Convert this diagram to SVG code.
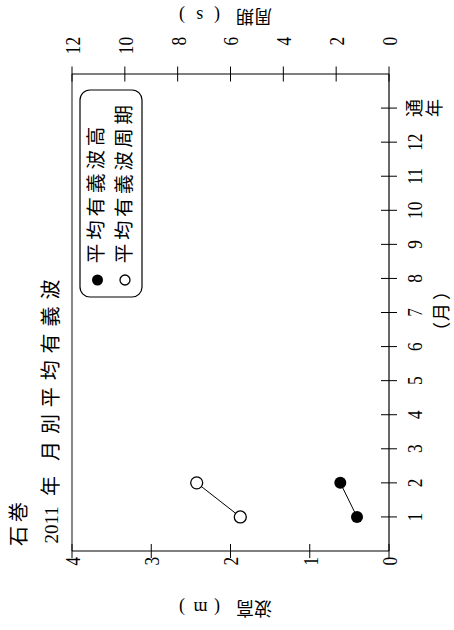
<svg xmlns="http://www.w3.org/2000/svg" width="454" height="630" viewBox="0 0 454 630">
<style>
.ax{stroke:#000;stroke-width:1.2;fill:none}
.tk{stroke:#000;stroke-width:1;fill:none}
.num{font-family:"Liberation Serif","Noto Sans CJK JP",serif;font-size:21px;fill:#000}
.cjk{font-family:"Liberation Serif","Noto Sans CJK JP",serif;fill:#000}
.dot{fill:#000}
.ring{fill:#fff;stroke:#000;stroke-width:1.3}
.ln{stroke:#000;stroke-width:1;fill:none}
</style>
<rect width="454" height="630" fill="#fff"/>
<g id="chart" transform="translate(0,630) rotate(-90)">
  <g id="axes">
    <line x1="79" y1="72" x2="556" y2="72" stroke="#555" stroke-width="1.4"/>
    <line x1="556" y1="72" x2="556" y2="389" class="ax"/>
    <line x1="79" y1="389" x2="556" y2="389" class="ax"/>
    <line x1="79" y1="72" x2="79" y2="389" class="ax"/>
    <path class="tk" d="M72 389H86M72 309.75H86M72 230.5H86M72 151.25H86M72 72H86"/>
    <path class="tk" d="M548.5 389H563.5M548.5 336.17H563.5M548.5 283.33H563.5M548.5 230.5H563.5M548.5 177.67H563.5M548.5 124.83H563.5M548.5 72H563.5"/>
    <path class="tk" d="M113.07 381V397M147.14 381V397M181.21 381V397M215.28 381V397M249.35 381V397M283.42 381V397M317.5 381V397M351.56 381V397M385.63 381V397M419.7 381V397M453.77 381V397M487.84 381V397M521.91 381V397"/>
  </g>
  <g id="height-labels" class="num" text-anchor="end" transform="scale(0.82 1)">
    <text x="89.02" y="397">0</text>
    <text x="89.02" y="317.75">1</text>
    <text x="89.02" y="238.5">2</text>
    <text x="89.02" y="159.25">3</text>
    <text x="89.02" y="80">4</text>
  </g>
  <g id="period-labels" class="num" text-anchor="end" transform="scale(0.82 1)">
    <text x="723.17" y="397">0</text>
    <text x="723.17" y="344.17">2</text>
    <text x="723.17" y="291.33">4</text>
    <text x="723.17" y="238.5">6</text>
    <text x="723.17" y="185.67">8</text>
    <text x="723.17" y="132.83">10</text>
    <text x="723.17" y="80">12</text>
  </g>
  <g id="month-labels" class="num" text-anchor="middle" transform="scale(0.82 1)">
    <text x="137.89" y="422">1</text>
    <text x="179.44" y="422">2</text>
    <text x="220.99" y="422">3</text>
    <text x="262.54" y="422">4</text>
    <text x="304.09" y="422">5</text>
    <text x="345.63" y="422">6</text>
    <text x="387.2" y="422">7</text>
    <text x="428.73" y="422">8</text>
    <text x="470.28" y="422">9</text>
    <text x="511.83" y="422">10</text>
    <text x="553.38" y="422">11</text>
    <text x="594.93" y="422">12</text>
  </g>
  <g id="annual-label" class="cjk" font-size="18" text-anchor="middle">
    <text x="521.91" y="421">通</text>
    <text x="521.91" y="441">年</text>
  </g>
  <g id="axis-titles" class="cjk" font-size="18">
    <text x="290 309 330" y="448">（月）</text>
    <text transform="translate(28,272) rotate(-90)" x="0 18 52 64.4 87" y="0">波高(m)</text>
    <text transform="translate(620,272) rotate(-90)" x="0 18 52 68.7 87" y="0">周期(s)</text>
  </g>
  <g id="title" class="cjk" font-size="20">
    <text x="84" y="26" letter-spacing="4">石巻</text>
    <text y="58"><tspan x="86.5" font-size="19">2011</tspan><tspan x="134">年</tspan><tspan x="169" letter-spacing="6.9">月別平均有義波</tspan></text>
  </g>
  <g id="connectors">
    <line class="ln" x1="113.07" y1="357" x2="147.14" y2="340.3"/>
    <line class="ln" x1="113.07" y1="240.3" x2="147.14" y2="196.7"/>
  </g>
  <g id="series-height">
    <circle class="dot" cx="113.07" cy="357" r="6"/>
    <circle class="dot" cx="147.14" cy="340.3" r="6"/>
  </g>
  <g id="series-period">
    <circle class="ring" cx="113.07" cy="240.3" r="6"/>
    <circle class="ring" cx="147.14" cy="196.7" r="6"/>
  </g>
  <g id="legend">
    <rect x="333" y="80" width="207" height="62" rx="10" fill="#fff" stroke="#000" stroke-width="1.2"/>
    <circle class="dot" cx="350" cy="97.5" r="5.5"/>
    <circle class="ring" cx="350" cy="125" r="5"/>
    <text class="cjk" font-size="19.5" x="366.8" y="102.7" letter-spacing="3.9">平均有義波高</text>
    <text class="cjk" font-size="19.5" x="366.8" y="130.7" letter-spacing="3.6">平均有義波周期</text>
  </g>
</g>
</svg>
